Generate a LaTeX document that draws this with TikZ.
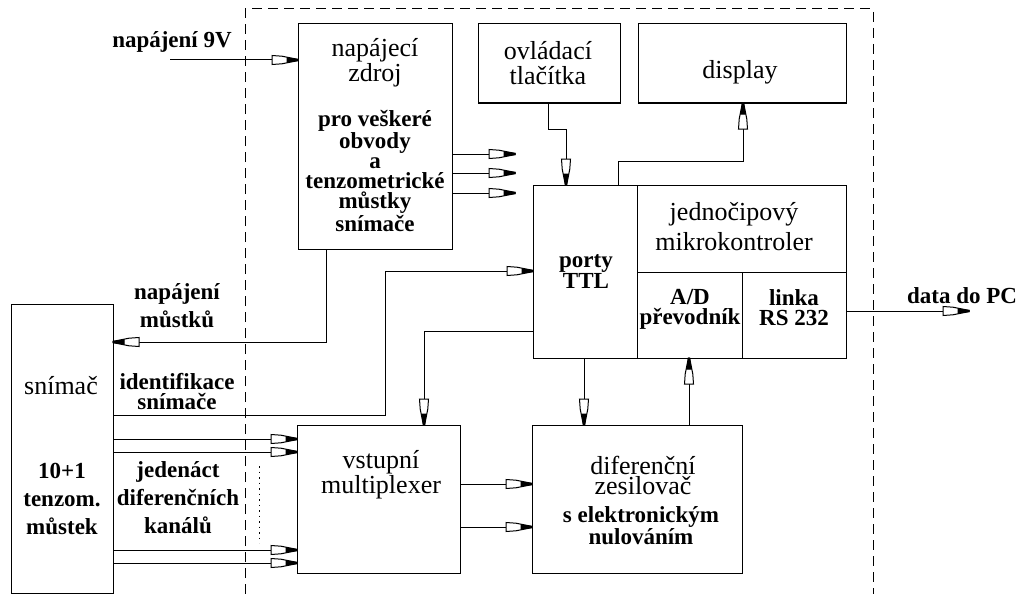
\documentclass[tikz,border=0pt]{standalone}
\usepackage{fontspec}
\setmainfont{Liberation Serif}
\pgfdeclarearrow{
  name=PenTip,
  setup code={
    \pgfarrowssettipend{0pt}
    \pgfarrowssetlineend{-25pt}
    \pgfarrowssetvisualbackend{-26pt}
    \pgfarrowssetbackend{-26pt}
    \pgfarrowshullpoint{0pt}{0pt}
    \pgfarrowshullpoint{-26pt}{4.5pt}
    \pgfarrowshullpoint{-26pt}{-4.5pt}
  },
  drawing code={
    \pgfsetdash{}{0pt}
    \pgfsetmiterjoin
    \pgfsetlinewidth{1pt}
    \pgfpathmoveto{\pgfpoint{-26pt}{4.5pt}}
    \pgfpathlineto{\pgfpoint{-16pt}{3.8pt}}
    \pgfpathlineto{\pgfpoint{0pt}{0.6pt}}
    \pgfpathlineto{\pgfpoint{0pt}{-0.6pt}}
    \pgfpathlineto{\pgfpoint{-16pt}{-3.8pt}}
    \pgfpathlineto{\pgfpoint{-26pt}{-4.5pt}}
    \pgfpathclose
    \pgfsetfillcolor{white}
    \pgfusepathqfillstroke
    \pgfpathmoveto{\pgfpoint{-11pt}{2.2pt}}
    \pgfpathlineto{\pgfpoint{0pt}{0.6pt}}
    \pgfpathlineto{\pgfpoint{0pt}{-0.6pt}}
    \pgfpathlineto{\pgfpoint{-11pt}{-2.2pt}}
    \pgfpathclose
    \pgfsetfillcolor{black}
    \pgfusepathqfillstroke
  },
}
\tikzset{
  box/.style={draw, line width=1pt, anchor=north west, inner sep=0pt, outer sep=0pt},
  reg/.style={font=\fontsize{26pt}{25pt}\selectfont, align=center, inner sep=0pt},
  bld/.style={font=\bfseries\fontsize{23pt}{20pt}\selectfont, align=center, inner sep=0pt},
  pen/.style={line width=1pt, -{PenTip}},
  ln/.style={line width=1pt},
}
\begin{document}
\begin{tikzpicture}[x=1pt, y=-1pt]
\useasboundingbox (0,0) rectangle (1018,594);
\fill[white] (0,0) rectangle (1018,594);

% dashed frame
\draw[line width=1pt, dash pattern=on 10pt off 6pt] (245,594) -- (245,9) -- (873,9) -- (873,594);

% boxes
\node[box, minimum width=154pt, minimum height=225pt] (psu) at (298,24) {};
\node[box, minimum width=142pt, minimum height=79pt] (btn) at (478,24) {};
\node[box, minimum width=208pt, minimum height=79pt] (disp) at (638,24) {};
\node[box, minimum width=104pt, minimum height=173pt] (porty) at (533,185) {};
\node[box, minimum width=209pt, minimum height=87pt] (mk) at (637,185) {};
\node[box, minimum width=105pt, minimum height=86pt] (ad) at (637,272) {};
\node[box, minimum width=104pt, minimum height=86pt] (rs) at (742,272) {};
\node[box, minimum width=163pt, minimum height=148pt] (mux) at (297,425) {};
\node[box, minimum width=210pt, minimum height=148pt] (amp) at (532,425) {};
\node[box, minimum width=102pt, minimum height=289pt] (sens) at (11,304) {};

% texts in boxes
\node[reg] (tpsu) at (375,63) {napájecí\\zdroj};
\node[bld] (tpsub) at (375,171) {pro veškeré\\obvody\\a\\tenzometrické\\můstky\\snímače};
\node[reg] (tbtn) at (548,63) {ovládací\\tlačítka};
\node[reg] (tdisp) at (740,72) {display};
\node[reg, font=\fontsize{26pt}{30pt}\selectfont] (tmk) at (734,227) {jednočipový\\mikrokontroler};
\node[bld, font=\bfseries\fontsize{23pt}{21pt}\selectfont] (tporty) at (586,272) {porty\\TTL};
\node[bld] (tad) at (690,309) {A/D\\převodník};
\node[bld] (trs) at (794,308) {linka\\RS 232};
\node[reg, font=\fontsize{26pt}{20pt}\selectfont] (tmux) at (381,475) {vstupní\\multiplexer};
\node[reg, font=\fontsize{26pt}{20pt}\selectfont] (tamp) at (643,475) {diferenční\\zesilovač};
\node[bld] (tampb) at (641,526) {s elektronickým\\nulováním};
\node[reg] (tsens) at (61,386) {snímač};
\node[bld, font=\bfseries\fontsize{23pt}{28pt}\selectfont] (tsensb) at (62,499) {10+1\\tenzom.\\můstek};

% outside labels
\node[bld] (l9v) at (172,42) {napájení 9V};
\node[bld, font=\bfseries\fontsize{23pt}{28pt}\selectfont] (lmost) at (177,306) {napájení\\můstků};
\node[bld] (lid) at (177,392) {identifikace\\snímače};
\node[bld, font=\bfseries\fontsize{23pt}{28pt}\selectfont] (lkan) at (178,498) {jedenáct\\diferenčních\\kanálů};
\node[bld] (lpc) at (962,296) {data do PC};

% coordinates
\coordinate (in9) at (170,60);
\coordinate (o1) at (515,154);
\coordinate (o2) at (515,173);
\coordinate (o3) at (515,193);
\coordinate (bpw) at (326,342);
\coordinate (id1) at (385,415);
\coordinate (id2) at (385,271);
\coordinate (pm) at (424,331);
\coordinate (ch1) at (0,439);
\coordinate (ch2) at (0,452);
\coordinate (ch3) at (0,550);
\coordinate (ch4) at (0,563);
\coordinate (ma1) at (0,484);
\coordinate (ma2) at (0,527);
\coordinate (pa) at (584,0);
\coordinate (aa) at (689,0);
\coordinate (pc) at (969,311);
\coordinate (b1) at (548,129);
\coordinate (b2) at (566,129);
\coordinate (d1) at (618,161);
\coordinate (d2) at (743,161);

% connectors
\draw[pen] (in9) -- (psu.west |- in9);
\draw[pen] (psu.east |- o1) -- (o1);
\draw[pen] (psu.east |- o2) -- (o2);
\draw[pen] (psu.east |- o3) -- (o3);
\draw[pen] (psu.south -| bpw) -- (bpw) -- (sens.east |- bpw);
\draw[pen] (sens.east |- id1) -- (id1) -- (id2) -- (porty.west |- id2);
\draw[pen] (porty.west |- pm) -- (pm) -- (mux.north -| pm);
\draw[pen] (sens.east |- ch1) -- (mux.west |- ch1);
\draw[pen] (sens.east |- ch2) -- (mux.west |- ch2);
\draw[pen] (sens.east |- ch3) -- (mux.west |- ch3);
\draw[pen] (sens.east |- ch4) -- (mux.west |- ch4);
\draw[pen] (mux.east |- ma1) -- (amp.west |- ma1);
\draw[pen] (mux.east |- ma2) -- (amp.west |- ma2);
\draw[pen] (porty.south -| pa) -- (amp.north -| pa);
\draw[pen] (amp.north -| aa) -- (ad.south -| aa);
\draw[pen] (rs.east |- pc) -- (pc);
\draw[pen] (btn.south -| b1) -- (b1) -- (b2) -- (porty.north -| b2);
\draw[pen] (porty.north -| d1) -- (d1) -- (d2) -- (disp.south -| d2);

% dotted continuation
\draw[line width=1pt, dash pattern=on 1.5pt off 4pt] (259,466) -- (259,543);
\end{tikzpicture}
\end{document}
